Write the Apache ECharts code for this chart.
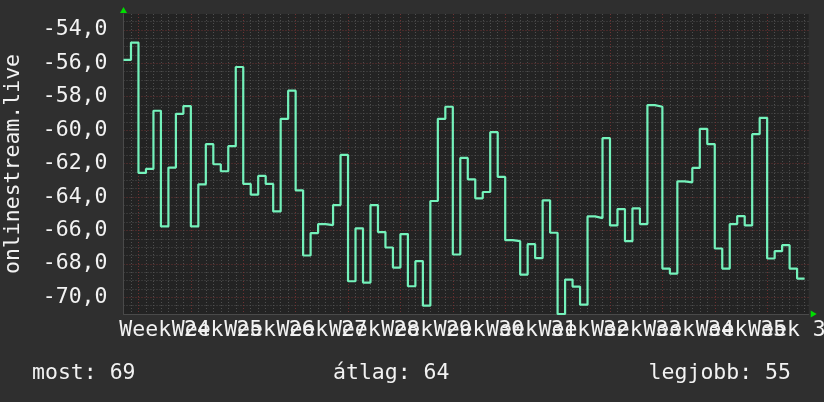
<!DOCTYPE html>
<html>
<head>
<meta charset="utf-8">
<script src="https://cdn.jsdelivr.net/npm/echarts@6/dist/echarts.min.js"></script>
<style>
html,body{margin:0;padding:0;background:#2f2f2f;}
#c{width:824px;height:402px;}
</style>
</head>
<body>
<div id="c"></div>
<script>
// ---- data ----
const startDay = -2; // first sample, days relative to Week 24 start
const values = [
  -55.8, -54.76,
  -62.56, -62.32, -58.84, -65.76, -62.24, -59.02, -58.56,
  -65.76, -63.24, -60.84, -62.04, -62.46, -60.96, -56.22,
  -63.22, -63.86, -62.74, -63.22, -64.86, -59.32, -57.64,
  -63.6, -67.5, -66.16, -65.62, -65.68, -64.48, -61.48,
  -69.04, -65.88, -69.12, -64.48, -66.1, -67.02, -68.22,
  -66.22, -69.34, -67.84, -70.5, -64.24, -59.32, -58.6,
  -67.44, -61.66, -62.94, -64.08, -63.7, -60.12, -62.8,
  -66.58, -66.64, -68.64, -66.82, -67.66, -64.2, -66.14,
  -71.0, -68.94, -69.36, -70.44, -65.16, -65.26, -60.48,
  -65.7, -64.72, -66.64, -64.68, -65.62, -58.5, -58.6,
  -68.28, -68.58, -63.06, -63.12, -62.26, -59.92, -60.84,
  -67.08, -68.28, -65.62, -65.14, -65.7, -60.24, -59.26,
  -67.68, -67.24, -66.88, -68.28, -68.88
];
const weekLabels = ['Week 24','Week 25','Week 26','Week 27','Week 28','Week 29','Week 30',
  'Week 31','Week 32','Week 33','Week 34','Week 35','Week 36'];
const legendItems = ['most: 69', 'átlag: 64', 'legjobb: 55'];
const axisName = 'onlinestream.live';

// ---- build ----
const seriesData = values.map((v, i) => [startDay + i, v]);
seriesData.push([startDay + values.length, values[values.length - 1]]);

const xMin = -2, xMax = 89.55;
const yMin = -71.0, yMax = -53.05;
const FONT = 'DejaVu Sans Mono';
const TXT = '#f2f2f2';
const RED = '#6e3232';
const GRAY = '#4e4e4e';

const chart = echarts.init(document.getElementById('c'), null, {renderer: 'canvas'});
chart.setOption({
  backgroundColor: '#2f2f2f',
  animation: false,
  grid: {left: 123.5, right: 15.3, top: 14, bottom: 88, show: true,
         backgroundColor: '#232323', borderWidth: 0,
         containLabel: false, outerBoundsMode: 'none'},
  xAxis: [{
    type: 'value', min: xMin, max: xMax, minInterval: 7, maxInterval: 7,
    position: 'bottom',
    axisLine: {show: true, onZero: false, lineStyle: {color: '#4a4a4a', width: 1}},
    axisTick: {show: false},
    axisLabel: {show: false},
    splitLine: {show: true, showMinLine: false, showMaxLine: false,
                lineStyle: {color: RED, width: 1, type: [1, 2]}},
    minorTick: {show: false, splitNumber: 7},
    minorSplitLine: {show: true, lineStyle: {color: GRAY, width: 1, type: [1, 2]}},
    z: 1
  }, {
    // label axis, shifted by half a week so labels sit in the middle of each week
    type: 'value', min: xMin - 3.5, max: xMax - 3.5, minInterval: 7, maxInterval: 7,
    position: 'bottom', offset: 0,
    axisLine: {show: true, onZero: false, lineStyle: {color: '#00dd00', width: 0},
               symbol: ['none', 'triangle'], symbolSize: [7, 6], symbolOffset: [0, 5]},
    axisTick: {show: false},
    splitLine: {show: false},
    axisLabel: {
      show: true, margin: 5, color: TXT, fontFamily: FONT, fontSize: 21.5,
      showMinLabel: false, showMaxLabel: false, hideOverlap: false,
      formatter: function (v) {
        const k = Math.round(v / 7);
        if (Math.abs(v - k * 7) > 1e-6) return '';
        return weekLabels[k] || '';
      }
    }
  }],
  yAxis: [{
    type: 'value', min: yMin, max: yMax, minInterval: 2, maxInterval: 2,
    position: 'left',
    axisLine: {show: true, onZero: false, lineStyle: {color: '#4a4a4a', width: 1}},
    axisTick: {show: false},
    axisLabel: {
      show: true, margin: 16, color: TXT, fontFamily: FONT, fontSize: 21.5,
      showMinLabel: false, showMaxLabel: false,
      formatter: function (v) {
        const k = Math.round(v / 2);
        if (Math.abs(v - k * 2) > 1e-6) return '';
        return v.toFixed(1).replace('.', ',');
      }
    },
    splitLine: {show: true, showMinLine: false, showMaxLine: false,
                lineStyle: {color: RED, width: 1, type: [1, 2]}},
    minorTick: {show: false, splitNumber: 4},
    minorSplitLine: {show: true, lineStyle: {color: GRAY, width: 1, type: [1, 2]}},
    name: axisName, nameLocation: 'middle', nameRotate: 90, nameGap: 99,
    nameTextStyle: {color: TXT, fontFamily: FONT, fontSize: 21.5}
  }, {
    type: 'value', min: yMin, max: yMax, position: 'left', offset: 0,
    axisLine: {show: true, onZero: false, lineStyle: {color: '#00dd00', width: 0},
               symbol: ['none', 'triangle'], symbolSize: [7, 6], symbolOffset: [0, 4]},
    axisTick: {show: false}, axisLabel: {show: false}, splitLine: {show: false}
  }],
  series: [{
    type: 'line', xAxisIndex: 0, yAxisIndex: 0,
    step: 'end', showSymbol: false, symbol: 'none',
    data: seriesData,
    lineStyle: {color: '#74f2bb', width: 2.2},
    z: 5
  }],
  graphic: [
    {type: 'text', left: 32, top: 362, style: {text: legendItems[0], fill: TXT, font: '21.5px "DejaVu Sans Mono"'}},
    {type: 'text', left: 333, top: 362, style: {text: legendItems[1], fill: TXT, font: '21.5px "DejaVu Sans Mono"'}},
    {type: 'text', right: 33, top: 362, style: {text: legendItems[2], fill: TXT, font: '21.5px "DejaVu Sans Mono"'}}
  ]
});
</script>
</body>
</html>
